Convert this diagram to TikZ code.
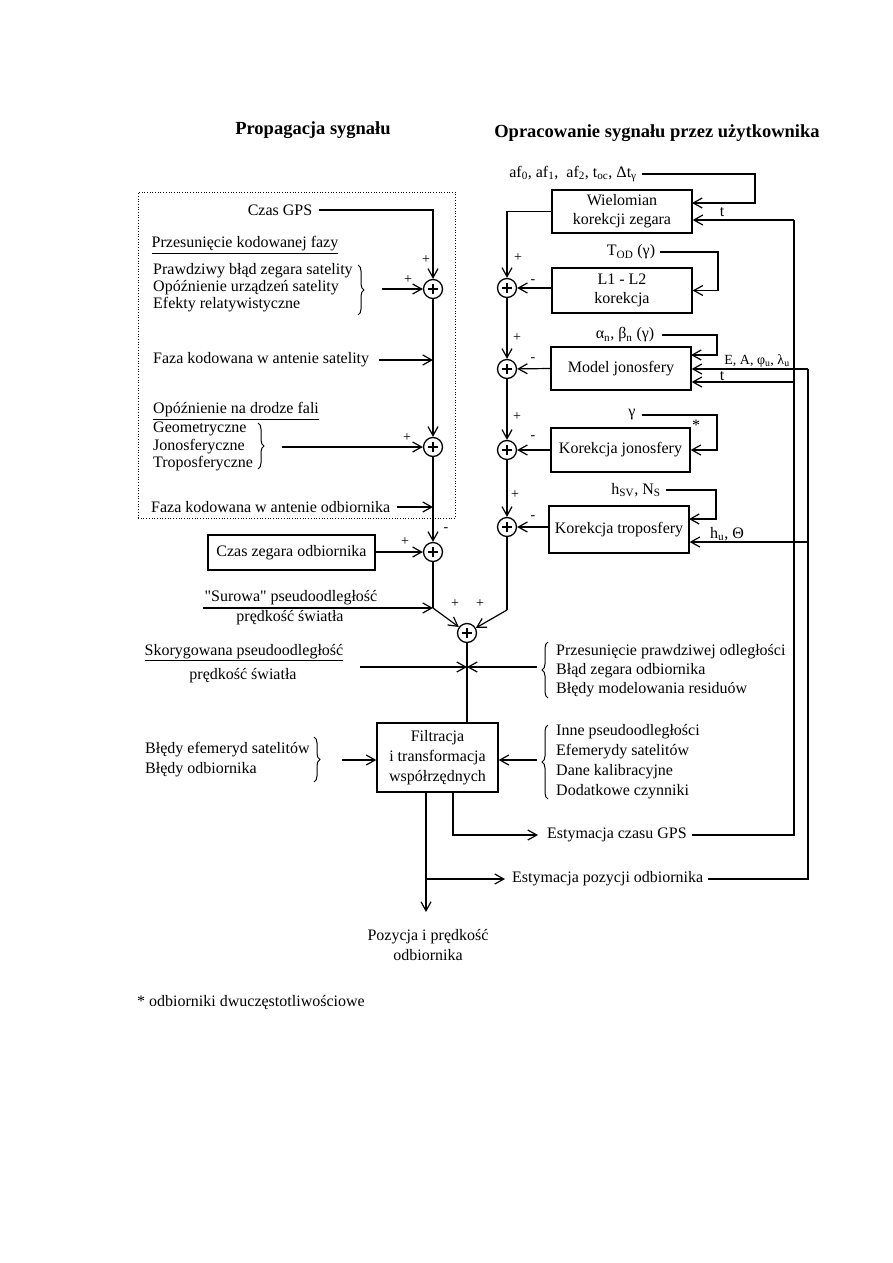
\documentclass[tikz,border=0pt]{standalone}
\usepackage{fontspec}
\setmainfont{Liberation Serif}
\usetikzlibrary{arrows.meta,decorations.pathreplacing}
\begin{document}
\begin{tikzpicture}[x=1pt,y=-1pt,
  txt/.style={font=\fontsize{16}{19}\selectfont, inner sep=0pt},
  ttl/.style={font=\fontsize{18.5}{21}\selectfont\bfseries, inner sep=0pt},
  lw/.style={line width=1.2pt},
  ar/.style={line width=1.2pt, -{Straight Barb[length=9pt,width=10pt]}},
  box/.style={draw, line width=1.3pt, inner sep=0pt, font=\fontsize{16}{19}\selectfont, align=center},
  sumn/.style={draw, circle, line width=1.3pt, minimum size=19pt, inner sep=0pt,
    path picture={\draw[line width=1.1pt] ([xshift=-5pt]path picture bounding box.center) -- ([xshift=5pt]path picture bounding box.center);
                  \draw[line width=1.1pt] ([yshift=-5pt]path picture bounding box.center) -- ([yshift=5pt]path picture bounding box.center);}},
  pm/.style={font=\fontsize{14}{14}\selectfont, inner sep=0pt},
  brc/.style={line width=1pt, decorate, decoration={brace, amplitude=6pt}},
  frm/.style={draw, dotted, line width=0.7pt, inner sep=0pt},
]
\useasboundingbox (0,0) rectangle (893,1263);
\fill[white] (0,0) rectangle (893,1263);

% titles
\node[ttl] (t1) at (313,130) {Propagacja sygnału};
\node[ttl] (t2) at (657,133) {Opracowanie sygnału przez użytkownika};

% ---------------- left column ----------------
\node[frm, minimum width=317pt, minimum height=326pt] (fr) at (296.5,355) {};

\node[txt] (gps) at (280,210) {Czas GPS};
\node[sumn] (s1) at (433,289) {};
\draw[ar] ([xshift=7pt]gps.east) -| (s1);
\node[pm] (pa) at (426,260) {+};
\node[pm] (pb) at (408,280) {+};

\node[txt] (h1) at (245,245) {\underline{Przesunięcie kodowanej fazy}};
\node[txt,anchor=west] (p1) at (153,271) {Prawdziwy błąd zegara satelity};
\node[txt,anchor=west] (p2) at (153,288) {Opóźnienie urządzeń satelity};
\node[txt,anchor=west] (p3) at (153,305) {Efekty relatywistyczne};
\draw[brc] (358,265) -- (358,315);
\coordinate (b1) at (382,289);
\draw[ar] (b1) -- (s1);

\node[txt,anchor=west] (fs) at (153,360) {Faza kodowana w antenie satelity};
\coordinate (m1) at (433,360);
\draw[ar] ([xshift=10pt]fs.east) -- (m1);

\node[txt,anchor=west] (h2) at (153,411) {\underline{Opóźnienie na drodze fali}};
\node[txt,anchor=west] (g1) at (153,429) {Geometryczne};
\node[txt,anchor=west] (g2) at (153,447) {Jonosferyczne};
\node[txt,anchor=west] (g3) at (153,464) {Troposferyczne};
\draw[brc] (258,423) -- (258,469);
\node[sumn] (s2) at (433,447) {};
\draw[ar] (s1) -- (s2);
\coordinate (b2) at (282,447);
\draw[ar] (b2) -- (s2);
\node[pm] (pc) at (407,438) {+};

\node[txt,anchor=west] (fo) at (151,507) {Faza kodowana w antenie odbiornika};
\coordinate (m2) at (433,507);
\draw[ar] ([xshift=7pt]fo.east) -- (m2);

\node[sumn] (s3) at (433,552) {};
\draw[ar] (s2) -- (s3);
\node[pm] (pd) at (446,530) {-};
\node[box, minimum width=167pt, minimum height=35pt] (czz) at (291.5,552.5) {Czas zegara odbiornika};
\draw[ar] (czz.east |- s3) -- (s3);
\node[pm] (pe) at (405,542) {+};

% join
\coordinate (j1) at (433,608);
\coordinate (j3) at (507,610);
\node[sumn] (s4) at (467,633) {};
\draw[lw] (s3) -- (j1);
\draw[ar] (j1) -- (s4);
\coordinate (sw) at (203,608);
\draw[ar] (sw) -- (j1);
\node[txt] (sur) at (291,598) {\textquotedbl Surowa\textquotedbl{} pseudoodległość};
\node[txt] (sur2) at (290,618) {prędkość światła};
\node[pm] (pf) at (455,604) {+};
\node[pm] (pg) at (480,604) {+};

% ---------------- right column ----------------
\node[box, minimum width=140pt, minimum height=43pt] (wiel) at (622,211.5) {Wielomian\\korekcji zegara};
\node[sumn] (sA) at (507,288) {};
\draw[ar] (wiel.west) -| (sA);
\node[txt] (af) at (573,174) {af\textsubscript{0}, af\textsubscript{1}, \ af\textsubscript{2}, t\textsubscript{oc}, Δt\textsubscript{γ}};
\coordinate (wi1) at (692,203);
\draw[ar] ([xshift=5pt]af.east) -- (755,174) |- (wi1);
\node[pm] (ra1) at (518,258) {+};
\node[pm] (ra2) at (533,282) {-};

\node[box, minimum width=140pt, minimum height=45pt] (l12) at (622,290.5) {L1 - L2\\korekcja};
\draw[ar] (l12.west |- sA) -- (sA);
\node[txt] (tod) at (631,252) {T\textsubscript{OD} (γ)};
\draw[ar] ([xshift=5pt]tod.east) -- (718,252) |- (l12.east);

\node[sumn] (sB) at (507,369) {};
\draw[ar] (sA) -- (sB);
\node[pm] (rb1) at (517,338) {+};
\node[pm] (rb2) at (533,360) {-};
\node[box, minimum width=140pt, minimum height=43pt] (mod) at (621,368.5) {Model jonosfery};
\draw[ar] (mod.west) -- (sB);
\node[txt] (ab) at (625,335) {α\textsubscript{n}, β\textsubscript{n} (γ)};
\coordinate (mi1) at (691,355);
\draw[ar] ([xshift=8pt]ab.east) -- (717,335) |- (mi1);

\node[sumn] (sC) at (507,450) {};
\draw[ar] (sB) -- (sC);
\node[pm] (rc1) at (517,417) {+};
\node[pm] (rc2) at (533,438) {-};
\node[box, minimum width=139pt, minimum height=44pt] (kj) at (620.5,450) {Korekcja jonosfery};
\draw[ar] (kj.west) -- (sC);
\node[txt] (gam) at (632,415) {γ};
\draw[ar] ([xshift=6pt]gam.east) -- (717,415) |- (kj.east);
\node[txt] (star) at (696,425) {*};

\node[sumn] (sD) at (507,527) {};
\draw[ar] (sC) -- (sD);
\node[pm] (rd1) at (515,495) {+};
\node[pm] (rd2) at (533,518) {-};
\node[box, minimum width=140pt, minimum height=47pt] (trop) at (619,529.5) {Korekcja troposfery};
\draw[ar] (trop.west |- sD) -- (sD);
\node[txt] (hs) at (636,490) {h\textsubscript{SV}, N\textsubscript{S}};
\coordinate (ti1) at (689,519);
\draw[ar] ([xshift=5pt]hs.east) -- (716,490) |- (ti1);

\draw[lw] (sD) -- (j3);
\draw[ar] (j3) -- (s4);

% feedback lines
\coordinate (Q1) at (794,220);
\coordinate (Q2) at (794,382);
\coordinate (R1) at (808,369);
\coordinate (R2) at (808,542);
\draw[ar] (Q1) -- (wiel.east |- Q1);
\node[txt] (tl1) at (722,212) {t};
\draw[ar] (R1) -- (mod.east |- R1);
\node[txt, font=\fontsize{14}{16}\selectfont] (eal) at (757,361) {E, A, φ\textsubscript{u}, λ\textsubscript{u}};
\draw[ar] (Q2) -- (mod.east |- Q2);
\node[txt] (tl2) at (722,376) {t};
\draw[ar] (R2) -- (trop.east |- R2);
\node[txt] (hul) at (727,534) {h\textsubscript{u}, Θ};

% ---------------- lower part ----------------
\node[box, minimum width=121pt, minimum height=69pt, font=\fontsize{16}{20}\selectfont] (fil) at (437.5,757.5) {Filtracja\\i transformacja\\współrzędnych};
\draw[lw] (s4) -- (s4 |- fil.north);
\coordinate (j2) at (467,667);
\coordinate (cl) at (360,667);
\coordinate (cr) at (537,667);
\draw[ar] (cl) -- (j2);
\draw[ar] (cr) -- (j2);

\node[txt] (sk) at (244,653) {\underline{Skorygowana pseudoodległość}};
\node[txt] (sk2) at (243,676) {prędkość światła};

\draw[brc] (548,698) -- (548,642);
\node[txt,anchor=west] (q1) at (556,652) {Przesunięcie prawdziwej odległości};
\node[txt,anchor=west] (q2) at (556,671) {Błąd zegara odbiornika};
\node[txt,anchor=west] (q3) at (556,690) {Błędy modelowania residuów};

\draw[brc] (548,799) -- (548,725);
\node[txt,anchor=west] (r1) at (556,732) {Inne pseudoodległości};
\node[txt,anchor=west] (r2) at (556,752) {Efemerydy satelitów};
\node[txt,anchor=west] (r3) at (556,772) {Dane kalibracyjne};
\node[txt,anchor=west] (r4) at (556,792) {Dodatkowe czynniki};
\coordinate (fr2) at (537,760);
\draw[ar] (fr2) -- (fil.east |- fr2);

\node[txt,anchor=west] (e1) at (145,750) {Błędy efemeryd satelitów};
\node[txt,anchor=west] (e2) at (145,770) {Błędy odbiornika};
\draw[brc] (314,737) -- (314,782);
\coordinate (fl) at (342,760);
\draw[ar] (fl) -- (fil.west |- fl);

% outputs
\coordinate (oA) at (426,792);
\coordinate (oB) at (453,792);
\coordinate (pend) at (426,912);
\coordinate (brp) at (426,879);
\draw[ar] (oA) -- (pend);
\node[txt, align=center, font=\fontsize{16}{20}\selectfont] (poz) at (428,945) {Pozycja i prędkość\\odbiornika};

\node[txt,anchor=west] (ep) at (512,879) {Estymacja pozycji odbiornika};
\draw[ar] (brp) -- ([xshift=-7pt]ep.west);
\draw[lw] ([xshift=5pt]ep.east) -| (R1);

\node[txt,anchor=west] (ec) at (547,835) {Estymacja czasu GPS};
\draw[ar] (oB) |- ([xshift=-9pt]ec.west);
\draw[lw] ([xshift=5pt]ec.east) -| (Q1);

\node[txt,anchor=west] (fn) at (137,1002) {* odbiorniki dwuczęstotliwościowe};
\end{tikzpicture}
\end{document}
